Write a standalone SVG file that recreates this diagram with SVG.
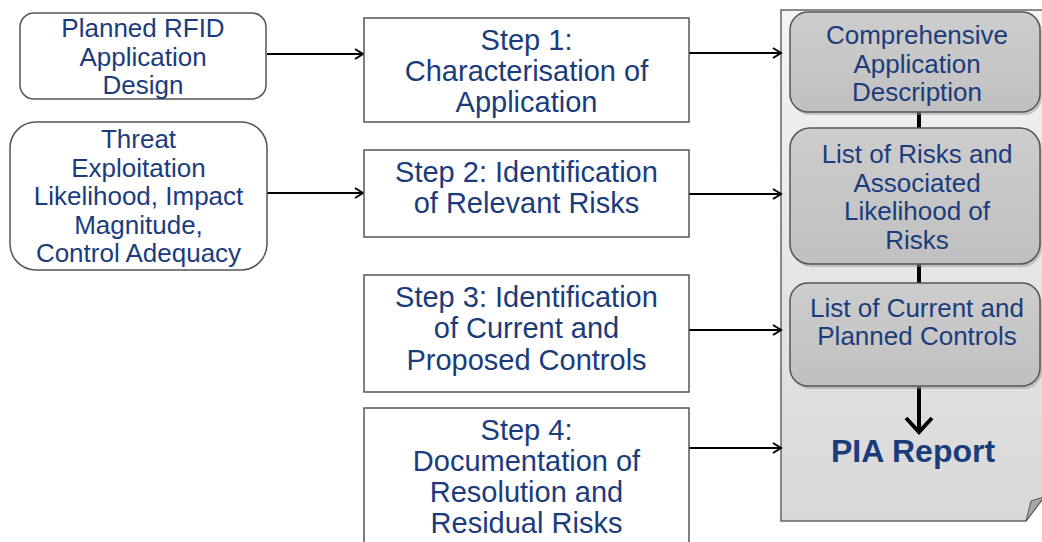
<svg xmlns="http://www.w3.org/2000/svg" width="1042" height="542" viewBox="0 0 1042 542">
<defs>
<marker id="arr" markerWidth="12" markerHeight="12" refX="10" refY="6" orient="auto" markerUnits="userSpaceOnUse">
<path d="M2,1 L10,6 L2,11" fill="none" stroke="#000" stroke-width="2"/>
</marker>
<linearGradient id="doc" x1="0" y1="0" x2="0" y2="1">
<stop offset="0" stop-color="#f4f4f4"/>
<stop offset="1" stop-color="#d8d8d8"/>
</linearGradient>
<linearGradient id="gb" x1="0" y1="0" x2="0" y2="1">
<stop offset="0" stop-color="#cdcdcd"/>
<stop offset="1" stop-color="#c0c0c0"/>
</linearGradient>
</defs>
<style>
text{font-family:"Liberation Sans",Arial,sans-serif;fill:#1b3c7c;text-anchor:middle}
.t{font-size:26px}
.s{font-size:29px}
.wb{fill:#fff;stroke:#555;stroke-width:1.5}
.gr{fill:url(#gb);stroke:#555;stroke-width:1.5}
.c{stroke:#000;stroke-width:2;fill:none}
</style>
<g id="document">
<path d="M781,10 L1044,10 L1044,497 L1026,521 L781,521 Z" fill="url(#doc)" stroke="#666" stroke-width="1.5"/>
<path d="M1026,521 L1031,501 L1044,497 Z" fill="#a8a8a8" stroke="#555" stroke-width="1"/>
</g>
<g id="connectors">
<line class="c" x1="267" y1="54" x2="363" y2="54" marker-end="url(#arr)"/>
<line class="c" x1="267" y1="193" x2="363" y2="193" marker-end="url(#arr)"/>
<line class="c" x1="689" y1="53" x2="781" y2="53" marker-end="url(#arr)"/>
<line class="c" x1="689" y1="194" x2="781" y2="194" marker-end="url(#arr)"/>
<line class="c" x1="689" y1="330" x2="781" y2="330" marker-end="url(#arr)"/>
<line class="c" x1="689" y1="448" x2="781" y2="448" marker-end="url(#arr)"/>
<line x1="919" y1="112" x2="919" y2="129" stroke="#000" stroke-width="4"/>
<line x1="919" y1="264" x2="919" y2="284" stroke="#000" stroke-width="4"/>
<line x1="919" y1="387" x2="919" y2="430" stroke="#000" stroke-width="4"/>
<path d="M906,418 L919,432 L932,418" fill="none" stroke="#000" stroke-width="4"/>
</g>
<g id="planned">
<rect class="wb" x="20" y="13" width="246" height="86" rx="14"/>
<text class="t" x="143" y="37">Planned RFID</text>
<text class="t" x="143" y="66">Application</text>
<text class="t" x="143" y="94">Design</text>
</g>
<g id="threat">
<rect class="wb" x="10" y="122" width="257" height="148" rx="26"/>
<text class="t" x="138.5" y="148">Threat</text>
<text class="t" x="138.5" y="177">Exploitation</text>
<text class="t" x="138.5" y="205">Likelihood, Impact</text>
<text class="t" x="138.5" y="234">Magnitude,</text>
<text class="t" x="138.5" y="262">Control Adequacy</text>
</g>
<g id="step1">
<rect class="wb" x="364" y="18" width="325" height="104"/>
<text class="s" x="526.5" y="50">Step 1:</text>
<text class="s" x="526.5" y="81">Characterisation of</text>
<text class="s" x="526.5" y="112">Application</text>
</g>
<g id="step2">
<rect class="wb" x="364" y="150" width="325" height="87"/>
<text class="s" x="526.5" y="182">Step 2: Identification</text>
<text class="s" x="526.5" y="213">of Relevant Risks</text>
</g>
<g id="step3">
<rect class="wb" x="364" y="275" width="325" height="117"/>
<text class="s" x="526.5" y="307">Step 3: Identification</text>
<text class="s" x="526.5" y="338">of Current and</text>
<text class="s" x="526.5" y="370">Proposed Controls</text>
</g>
<g id="step4">
<rect class="wb" x="364" y="408" width="325" height="150"/>
<text class="s" x="526.5" y="440">Step 4:</text>
<text class="s" x="526.5" y="471">Documentation of</text>
<text class="s" x="526.5" y="502">Resolution and</text>
<text class="s" x="526.5" y="533">Residual Risks</text>
</g>
<g id="desc">
<rect x="792" y="14" width="250" height="101" rx="18" fill="#999" opacity="0.5"/>
<rect class="gr" x="790" y="12" width="250" height="100" rx="18"/>
<text class="t" x="917" y="44">Comprehensive</text>
<text class="t" x="917" y="72.5">Application</text>
<text class="t" x="917" y="101">Description</text>
</g>
<g id="risks">
<rect x="792" y="130" width="250" height="137" rx="20" fill="#999" opacity="0.5"/>
<rect class="gr" x="790" y="128" width="250" height="136" rx="20"/>
<text class="t" x="917" y="163">List of Risks and</text>
<text class="t" x="917" y="192">Associated</text>
<text class="t" x="917" y="220">Likelihood of</text>
<text class="t" x="917" y="249">Risks</text>
</g>
<g id="controls">
<rect x="792" y="285" width="250" height="104" rx="18" fill="#999" opacity="0.5"/>
<rect class="gr" x="790" y="283" width="250" height="103" rx="18"/>
<text class="t" x="917" y="317">List of Current and</text>
<text class="t" x="917" y="345">Planned Controls</text>
</g>
<g id="report">
<text x="913" y="462" style="font-size:32px;font-weight:bold">PIA Report</text>
</g>
</svg>
